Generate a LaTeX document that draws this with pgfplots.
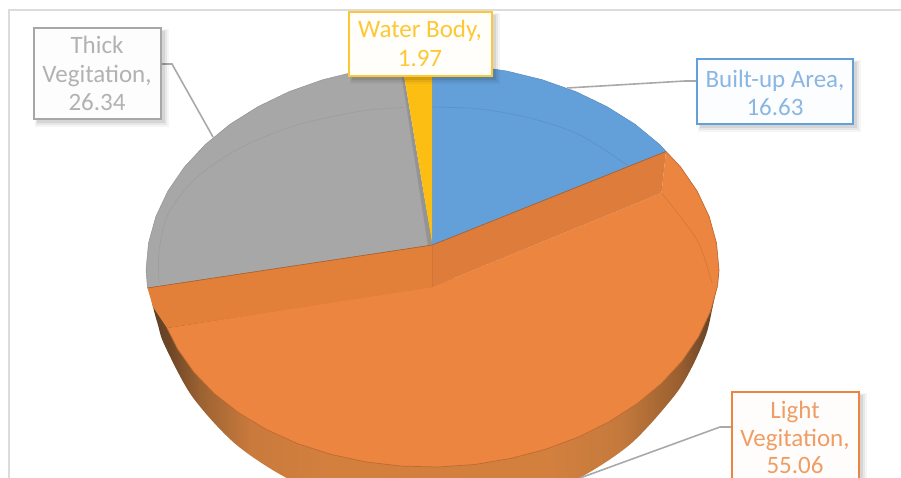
\documentclass[border=0pt]{standalone}
\usepackage{pgfplots}
\pgfplotsset{compat=1.18}
\usepackage{fontspec}
\setmainfont{Carlito}

\definecolor{blueS}{HTML}{639FD8}
\definecolor{orangeS}{HTML}{EC853F}
\definecolor{bandS}{HTML}{E27F38}
\definecolor{bandR}{HTML}{DE7D3B}
\definecolor{grayS}{HTML}{A7A7A7}
\definecolor{yellowS}{HTML}{FDBE13}
\definecolor{leader}{HTML}{A9A9A9}
\definecolor{frameC}{HTML}{DCDCDC}
\definecolor{rimA}{HTML}{5E3F26}
\definecolor{rimB}{HTML}{6E4626}
\definecolor{rimC}{HTML}{9C6232}
\definecolor{rimD}{HTML}{C97A3C}
\definecolor{rimE}{HTML}{D3803F}
\definecolor{rimF}{HTML}{C47A3C}
\definecolor{rimG}{HTML}{9A5F30}
\definecolor{rimH}{HTML}{6F4728}

% rim of the exploded slice, darker towards both ends
\pgfdeclarehorizontalshading{pieside}{100bp}{
  color(0bp)=(rimA);
  color(25bp)=(rimA);
  color(26.8bp)=(rimB);
  color(29.5bp)=(rimC);
  color(33.9bp)=(rimD);
  color(40.9bp)=(rimE);
  color(60bp)=(rimE);
  color(66.3bp)=(rimF);
  color(71.5bp)=(rimG);
  color(73.8bp)=(rimH);
  color(75bp)=(rimA);
  color(100bp)=(rimA)}

% data label box: x1, y1, x2, y2, edge colour
\newcommand{\labelbox}[5]{%
  \pgfmathsetmacro{\xa}{#1}\pgfmathsetmacro{\ya}{#2}\pgfmathsetmacro{\xb}{#3}\pgfmathsetmacro{\yb}{#4}%
  \edef\temp{\noexpand\addplot[draw=none,fill=black,fill opacity=0.04] coordinates {(\xa+1,\ya+1) (\xb+8,\ya+1) (\xb+8,\yb+8) (\xa+1,\yb+8)} -- cycle;}\temp
  \edef\temp{\noexpand\addplot[draw=none,fill=black,fill opacity=0.06] coordinates {(\xa+2,\ya+2) (\xb+6,\ya+2) (\xb+6,\yb+6) (\xa+2,\yb+6)} -- cycle;}\temp
  \edef\temp{\noexpand\addplot[draw=none,fill=black,fill opacity=0.08] coordinates {(\xa+3,\ya+3) (\xb+4,\ya+3) (\xb+4,\yb+4) (\xa+3,\yb+4)} -- cycle;}\temp
  \addplot[draw=#5,line width=2pt,fill=white!98!#5] coordinates {(#1,#2) (#3,#2) (#3,#4) (#1,#4)} -- cycle;
}
\newcommand{\labeltext}[4]{\node[text=#4,font=\fontsize{25}{25}\selectfont,inner sep=0pt,anchor=base] at (axis cs:#1,#2) {#3};}

\begin{document}
\begin{tikzpicture}
\begin{axis}[
  width=901pt,height=478pt,scale only axis,
  xmin=0,xmax=901,ymin=0,ymax=478,y dir=reverse,
  axis lines=none,clip=true]

% chart frame
\addplot[frameC,line width=1.5pt] coordinates {(9,490) (9,10) (910,10)};

% side wall of the exploded slice
\addplot[draw=none,smooth,shading=pieside] coordinates {
  (719,270) (716,290) (712,310) (706,335) (692,367) (673.8,396.5) (629.6,444.8) (572,481.8)
  (505,505) (433,513) (361,505) (294,481.8) (236.4,444.8) (192.2,396.5) (164.5,345)
  (158,325) (153,307) (149,288)};

% Thick Vegitation slice
\addplot[fill=grayS,draw=grayS!88!black,line width=0.5pt] coordinates {
  (432.5,245) (400,65.3) (395.1,65.8) (358.4,71) (322.9,79.7) (289.2,91.6) (258.1,106.6)
  (229.9,124.3) (205.2,144.6) (184.4,167) (167.8,191.2) (155.8,216.7) (148.5,243.1)
  (146,270) (147.5,288)} -- cycle;
\addplot[fill=black!42,draw=none] coordinates {(400,65.3) (402.3,65) (432.5,245) (428,246)} -- cycle;

% Water Body slice
\addplot[fill=yellowS,draw=none] coordinates {(432.5,245) (432.5,64) (402.3,65)} -- cycle;

% Built-up Area slice
\addplot[fill=blueS,draw=blueS!88!black,line width=0.5pt] coordinates {
  (432.5,245) (432.5,64) (469.9,65.8) (506.6,71) (542.1,79.7) (575.8,91.6) (606.9,106.6)
  (635.1,124.3) (659.8,144.6) (666,151.5)} -- cycle;

% faint bevel lines on the upper slices
\addplot[smooth,draw=blueS!92!black,line width=0.6pt] coordinates {(432.5,107) (480,109) (530,118) (580,135) (627,165)};
\addplot[smooth,draw=grayS!94!black,line width=0.6pt] coordinates {(404,107.5) (361.7,111) (295.7,125.4) (239.1,148.5) (195.6,178.5) (168.3,213.5) (159,251) (159,283)};

% Light Vegitation slice: top face
\addplot[fill=orangeS,draw=none] coordinates {
  (666,151.5) (680.6,167) (697.2,191.2) (709.2,216.7) (716.5,243.1) (719,270) (717.6,285.8)
  (710.4,311.7) (698.5,336.9) (682.2,360.9) (661.7,383.2) (637.4,403.5) (609.7,421.5)
  (579,436.8) (545.9,449.2) (511,458.4) (474.8,464.5) (438,467) (401.2,466.1) (365,461.8)
  (330.1,454.2) (297,443.4) (266.3,429.5) (238.6,412.7) (214.3,393.6) (193.8,372.1)
  (177.5,348.9) (167,328) (432.5,287) (661.5,193)} -- cycle;
% its front edge
\addplot[draw=orangeS!80!black,line width=0.7pt] coordinates {
  (719,270) (717.6,285.8)
  (710.4,311.7) (698.5,336.9) (682.2,360.9) (661.7,383.2) (637.4,403.5) (609.7,421.5)
  (579,436.8) (545.9,449.2) (511,458.4) (474.8,464.5) (438,467) (401.2,466.1) (365,461.8)
  (330.1,454.2) (297,443.4) (266.3,429.5) (238.6,412.7) (214.3,393.6) (193.8,372.1)
  (177.5,348.9) (167,328)};

% bevel band along the cut edges
\addplot[fill=bandS,draw=none] coordinates {(147.5,288) (432.5,245) (432.5,287) (167,328) (153,307)} -- cycle;
\addplot[fill=bandR,draw=none] coordinates {(432.5,245) (666,151.5) (661.5,193) (432.5,287)} -- cycle;
\addplot[draw=orangeS!70!black,line width=0.6pt] coordinates {(147.5,288) (432.5,245) (666,151.5)};
\addplot[draw=bandR!94!black,line width=0.4pt] coordinates {(432.5,245) (432.5,287)};
\addplot[smooth,draw=orangeS!90!black,line width=0.6pt] coordinates {(661.5,193) (697,240) (712,283)};
\addplot[draw=orangeS!80!black,line width=0.7pt] coordinates {(719,270) (716.5,243.1) (709.2,216.7) (697.2,191.2) (680.6,167) (666,151.5)};

% leader lines
\addplot[leader,line width=1.6pt] coordinates {(161,64) (172,64) (213,137)};
\addplot[leader,line width=1.6pt] coordinates {(697,81) (685,81) (567,88)};
\addplot[leader,line width=1.6pt] coordinates {(732,427) (720,427) (580,478)};

% label boxes
\labelbox{34}{28}{161}{119}{grayS}
\labelbox{349}{12.5}{492}{76}{yellowS!85!white}
\labelbox{697}{59}{853}{124}{blueS}
\labelbox{732}{392}{859}{500}{orangeS}

% label texts
\labeltext{97}{54}{Thick}{black!30}
\labeltext{97}{83}{Vegitation,}{black!30}
\labeltext{97}{111}{26.34}{black!30}
\labeltext{420}{38}{Water Body,}{yellowS!85!white}
\labeltext{420}{67}{1.97}{yellowS!85!white}
\labeltext{775}{88}{Built-up Area,}{blueS!75!white}
\labeltext{775}{116}{16.63}{blueS!75!white}
\labeltext{795}{418}{Light}{orangeS!80!white}
\labeltext{795}{446}{Vegitation,}{orangeS!80!white}
\labeltext{795}{473}{55.06}{orangeS!80!white}
\end{axis}
\pgfresetboundingbox
\path (0,0) rectangle (901pt,478pt);
\end{tikzpicture}
\end{document}
